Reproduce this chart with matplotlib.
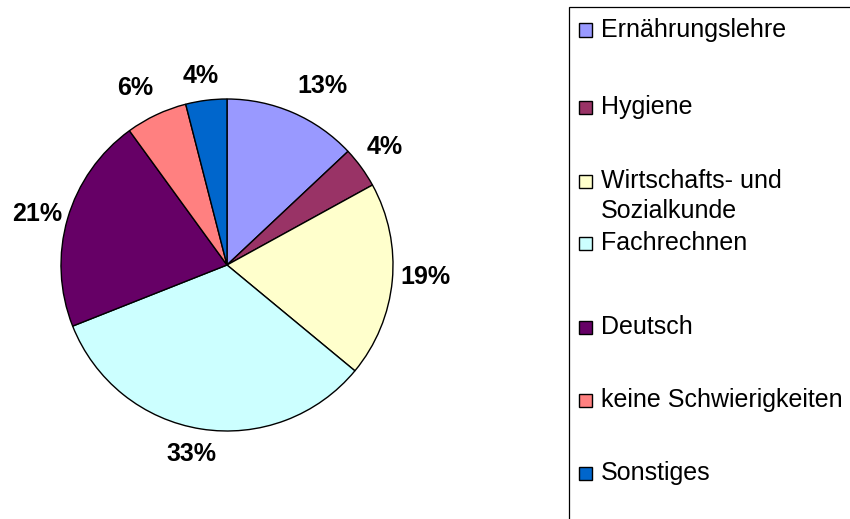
import numpy as np
import matplotlib
matplotlib.use('Agg')
import matplotlib.pyplot as plt
from matplotlib.patches import Rectangle

plt.rcParams['font.family'] = ['Liberation Sans', 'DejaVu Sans']

# data
subjects = ['Ernährungslehre', 'Hygiene', 'Wirtschafts- und\nSozialkunde',
            'Fachrechnen', 'Deutsch', 'keine Schwierigkeiten', 'Sonstiges']
shares = [13, 4, 19, 33, 21, 6, 4]
colors = ['#9999FF', '#993366', '#FFFFCC', '#CCFFFF', '#660066', '#FF8080', '#0066CC']

# label placement (distance in radii, extra turn in degrees) - Excel style
lab_dist = [1.22, 1.19, 1.195, 1.16, 1.185, 1.20, 1.15]
lab_turn = [-4.6, 0.8, 1.9, -1.5, 1.2, 2.3, 0.6]

W, H = 850, 519
fig = plt.figure(figsize=(W / 100, H / 100), dpi=100)

# pie axes: centre ~ (227, 265) px, radius ~166 px
r_px = 166
side = 2.5 * r_px
cx, cy = 227, 265
ax = fig.add_axes([(cx - side / 2) / W, (H - cy - side / 2) / H, side / W, side / H])

wedges, texts = ax.pie(
    shares, colors=colors, startangle=90, counterclock=False,
    wedgeprops=dict(edgecolor='black', linewidth=1.0))
ax.set_xlim(-1.25, 1.25)
ax.set_ylim(-1.25, 1.25)

total = sum(shares)
for w, v, d, t in zip(wedges, shares, lab_dist, lab_turn):
    ang = np.deg2rad((w.theta1 + w.theta2) / 2 + t)
    ax.text(d * np.cos(ang), d * np.sin(ang), '%d%%' % round(100 * v / total),
            ha='center', va='center', fontsize=18, fontweight='bold')

# legend box (runs off the right and bottom edge like the original)
def fx(px):
    return px / W

def fy(py):
    return 1 - py / H

fig.patches.append(Rectangle((fx(569), fy(530)), fx(300), 523 / H,
                             transform=fig.transFigure, facecolor='white',
                             edgecolor='black', linewidth=0.9, clip_on=False))

item_y = [30, 107, 181, 243, 327, 400, 473]
line_px = 30
for lab, col, yy in zip(subjects, colors, item_y):
    fig.patches.append(Rectangle((fx(579), fy(yy + 6.5)), 13 / W, 13 / H,
                                 transform=fig.transFigure, facecolor=col,
                                 edgecolor='black', linewidth=1.0))
    n = lab.count('\n')
    fig.text(fx(601), fy(yy + 7 + n * line_px), lab, fontsize=18,
             va='baseline', ha='left', linespacing=1.33)

fig.savefig('out.png', dpi=100)
